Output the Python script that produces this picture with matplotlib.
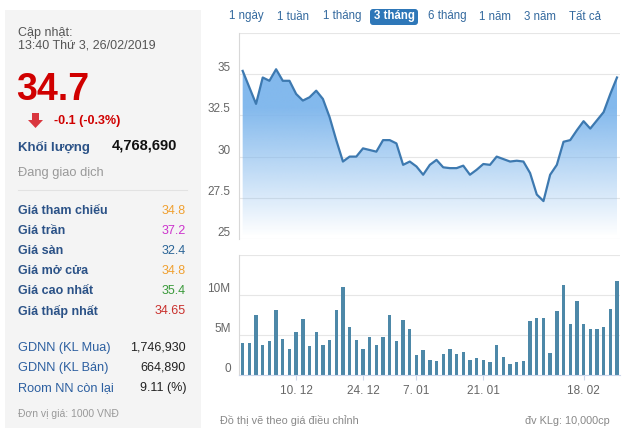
import numpy as np
import matplotlib
matplotlib.use('Agg')
import matplotlib.pyplot as plt
from matplotlib.patches import Rectangle, Polygon, FancyBboxPatch
from matplotlib.transforms import IdentityTransform
from matplotlib.colors import to_rgb

plt.rcParams['font.family'] = ['Liberation Sans', 'DejaVu Sans']

# closing price (1000 VND), one value per trading day
price = [35.2, 34.2, 33.2, 34.8, 34.6, 35.3, 34.6, 34.6, 33.8, 33.4,
         33.6, 34.0, 33.5, 32.4, 31.0, 29.7, 30.0, 30.0, 30.5, 30.4,
         30.3, 31.0, 31.0, 30.8, 29.5, 29.7, 29.4, 28.9, 29.5, 29.8,
         29.35, 29.3, 29.3, 29.45, 28.9, 29.2, 29.55, 29.5, 30.0, 29.85,
         29.7, 29.75, 29.7, 29.0, 27.7, 27.3, 28.9, 29.5, 30.9, 31.0,
         31.6, 32.15, 31.7, 32.2, 32.7, 33.8, 34.8]

# volume in millions of shares
volume = [4.0, 4.0, 7.5, 3.7, 4.3, 8.1, 4.5, 3.3, 5.4, 7.0,
          3.6, 5.4, 3.8, 4.4, 8.1, 11.0, 6.0, 4.4, 3.2, 4.8,
          3.8, 4.8, 7.5, 4.2, 6.9, 5.8, 2.5, 3.1, 1.9, 1.7,
          2.6, 3.2, 2.6, 2.9, 1.9, 2.1, 1.9, 1.6, 3.7, 2.3,
          1.4, 1.6, 1.7, 6.7, 7.1, 7.1, 2.7, 8.0, 11.2, 6.4,
          9.3, 6.4, 5.8, 5.8, 6.0, 8.2, 11.8]

tick_idx = [8, 18, 26, 36, 51]
tick_lbl = ['10. 12', '24. 12', '7. 01', '21. 01', '18. 02']

price_ticks = [25, 27.5, 30, 32.5, 35, 37.5]
price_lbls = ['25', '27.5', '30', '32.5', '35', '']
vol_ticks = [0, 5, 10, 15]
vol_lbls = ['0', '5M', '10M', '']

periods = ['1 ngày', '1 tuần', '1 tháng', '3 tháng', '6 tháng', '1 năm', '3 năm', 'Tất cả']
period_x = [246, 293, 342, 394, 447, 495, 540, 585]

info_rows = [('Giá tham chiếu', '34.8', '#f0a030'),
             ('Giá trần', '37.2', '#cc33cc'),
             ('Giá sàn', '32.4', '#2a6496'),
             ('Giá mở cửa', '34.8', '#f0a030'),
             ('Giá cao nhất', '35.4', '#3a9a3a'),
             ('Giá thấp nhất', '34.65', '#c9302c')]
foreign_rows = [('GDNN (KL Mua)', '1,746,930'),
                ('GDNN (KL Bán)', '664,890'),
                ('Room NN còn lại', '9.11 (%)')]

W, H = 640, 433
fig = plt.figure(figsize=(W / 100, H / 100), dpi=100)
fig.patch.set_facecolor('white')


def T(x, y, s, **kw):
    kw.setdefault('va', 'center')
    fig.text(x / W, 1 - y / H, s, **kw)


def rect(x, y, w, h):
    return [x / W, 1 - (y + h) / H, w / W, h / H]


# ---- left info panel ----
fig.add_artist(Rectangle((5 / W, 1 - 428 / H), 196 / W, 418 / H,
                         transform=fig.transFigure, facecolor='#f4f4f4',
                         edgecolor='none', zorder=0))
T(18, 33, 'Cập nhật:', fontsize=9, color='#555555')
T(18, 46, '13:40 Thứ 3, 26/02/2019', fontsize=9, color='#555555')
T(16, 90, '34.7', fontsize=27, fontweight='bold', color='#d00000')
arrow = [(32, 113), (39, 113), (39, 120), (43, 120), (35.5, 128), (28, 120), (32, 120)]
fig.add_artist(Polygon([(ax_, H - ay) for ax_, ay in arrow], closed=True,
                       transform=IdentityTransform(), facecolor='#d9363e',
                       edgecolor='none'))
T(54, 121, '-0.1 (-0.3%)', fontsize=9, fontweight='bold', color='#d00000')
T(18, 147, 'Khối lượng', fontsize=9.5, fontweight='bold', color='#2b5287')
T(177, 146, '4,768,690', fontsize=10.5, fontweight='bold', color='#111111', ha='right')
T(18, 173, 'Đang giao dịch', fontsize=9.3, color='#999999')
fig.add_artist(plt.Line2D([18 / W, 187 / W], [1 - 190.5 / H] * 2,
                          transform=fig.transFigure, color='#e2e2e2', lw=0.8))
for i, (lbl, val, col) in enumerate(info_rows):
    y = 211 + i * 20.1
    T(18, y, lbl, fontsize=9, fontweight='bold', color='#2b5287')
    T(186, y, val, fontsize=9, color=col, ha='right')
for i, (lbl, val) in enumerate(foreign_rows):
    y = 348 + i * 20
    T(18, y, lbl, fontsize=9.2, color='#2c5fa0')
    T(186, y, val, fontsize=9, color='#222222', ha='right')
T(18, 414, 'Đơn vị giá: 1000 VNĐ', fontsize=7.5, color='#999999')

# ---- period buttons ----
fig.add_artist(FancyBboxPatch((370, H - 25), 48, 16,
                              boxstyle='round,pad=0,rounding_size=3',
                              transform=IdentityTransform(),
                              facecolor='#2e77b8', edgecolor='none'))
for lbl, x in zip(periods, period_x):
    sel = lbl == '3 tháng'
    T(x, 16.5, lbl, fontsize=8.3, ha='center',
      color='white' if sel else '#33699e',
      fontweight='bold' if sel else 'normal')

# ---- price chart ----
x = np.arange(len(price))
xlim = (-0.55, len(price) - 0.55)
ax = fig.add_axes(rect(239, 33, 381, 206))
ax.set_xlim(xlim)
ax.set_ylim(25, 37.5)

# gradient area under the line
top_rgb = to_rgb('#7cb5ec')
grad = np.zeros((256, 1, 4))
grad[:, 0, :3] = top_rgb
grad[:, 0, 3] = np.clip(np.linspace(0, 1.0, 256) * 1.25 - 0.02, 0, 0.95)
im = ax.imshow(grad, extent=[xlim[0], xlim[1], 25, 35.3], origin='lower',
               aspect='auto', interpolation='bilinear', zorder=1)
verts = [(x[0], 25)] + list(zip(x, price)) + [(x[-1], 25)]
clip = Polygon(verts, closed=True, facecolor='none', edgecolor='none')
ax.add_patch(clip)
im.set_clip_path(clip)
ax.set_ylim(25, 37.5)
ax.plot(x, price, color='#3d79b0', lw=1.6, zorder=3, solid_joinstyle='round')

ax.set_yticks(price_ticks, price_lbls, va='bottom')
ax.set_xticks([])
ax.grid(axis='y', color='#e6e6e6', lw=0.8, zorder=0)
ax.set_axisbelow(True)
for s in ['top', 'right', 'bottom']:
    ax.spines[s].set_visible(False)
ax.spines['left'].set_color('#d8d8d8')
ax.tick_params(axis='y', length=0, pad=6, labelsize=8.5, labelcolor='#666666')
ax.set_facecolor('none')

# ---- volume chart ----
ax2 = fig.add_axes(rect(239, 255, 381, 120))
ax2.bar(x, volume, width=0.5, color='#4d88a8', zorder=2)
ax2.set_xlim(xlim)
ax2.set_ylim(0, 15)
ax2.set_yticks(vol_ticks, vol_lbls, va='bottom')
ax2.set_xticks(tick_idx, tick_lbl)
ax2.grid(axis='y', color='#e6e6e6', lw=0.8, zorder=0)
ax2.set_axisbelow(True)
for s in ['top', 'right']:
    ax2.spines[s].set_visible(False)
ax2.spines['left'].set_color('#d8d8d8')
ax2.spines['bottom'].set_color('#ccd6eb')
ax2.tick_params(axis='y', length=0, pad=6, labelsize=8.5, labelcolor='#666666')
ax2.tick_params(axis='x', length=3.5, width=0.8, color='#ccd6eb', pad=4,
                labelsize=8.5, labelcolor='#666666')
ax2.set_facecolor('none')

T(220, 421, 'Đồ thị vẽ theo giá điều chỉnh', fontsize=7.8, color='#888888')
T(610, 421, 'đv KLg: 10,000cp', fontsize=7.8, color='#888888', ha='right')

fig.savefig('out.png', dpi=100)
